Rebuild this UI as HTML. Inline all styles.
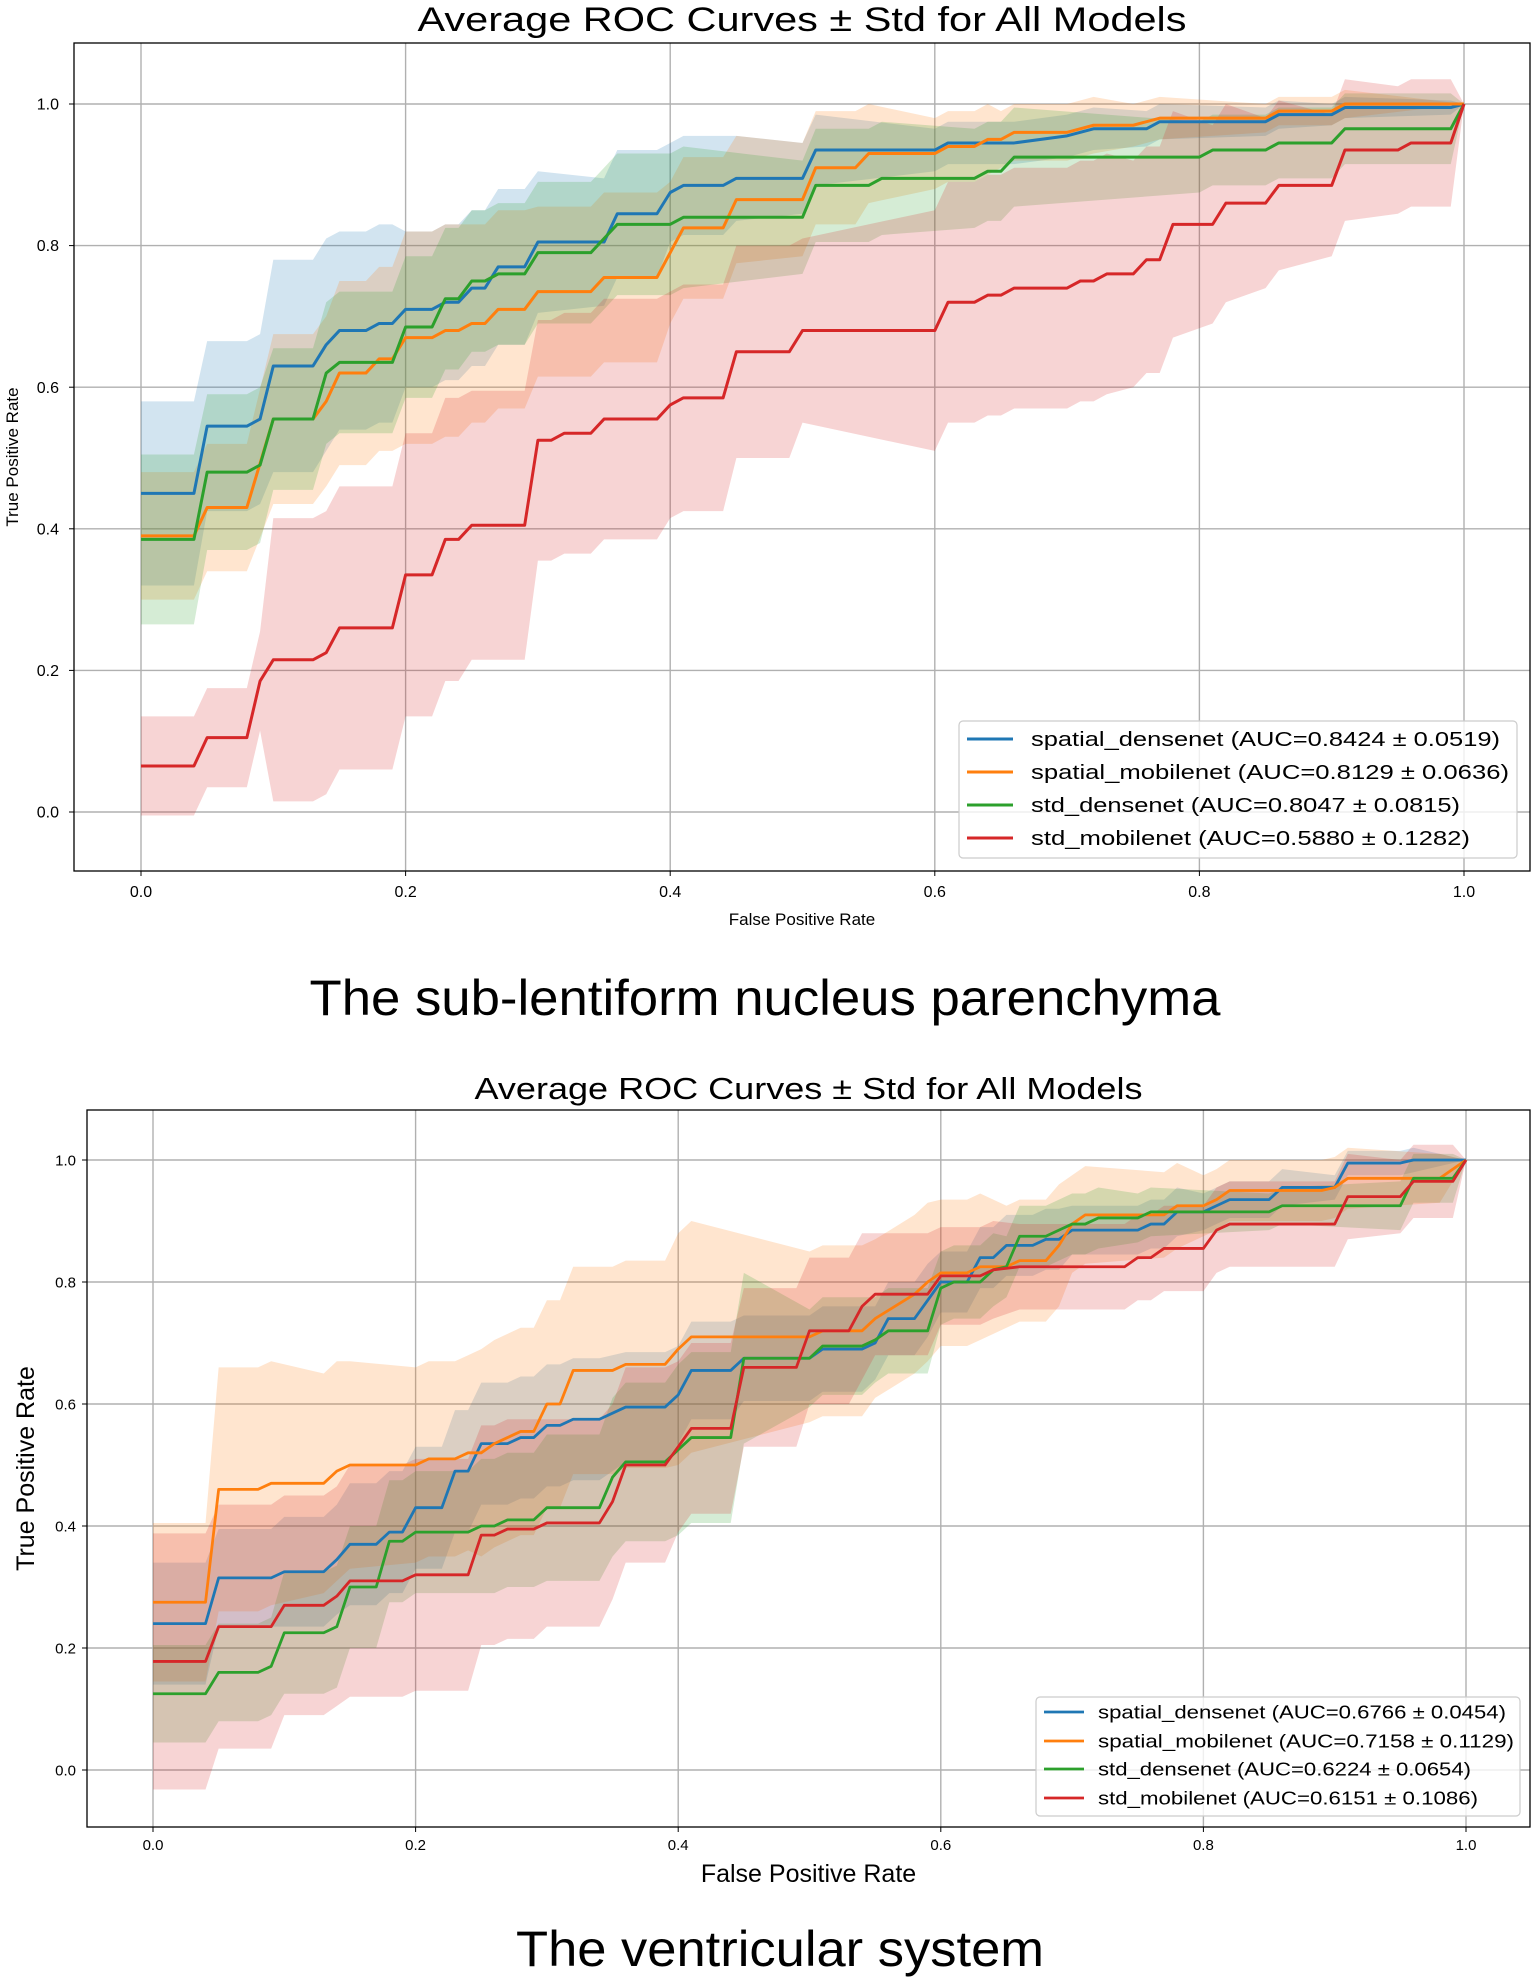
<!DOCTYPE html>
<html><head><meta charset="utf-8"><style>
html,body{margin:0;padding:0;background:#fff}
svg{display:block;font-family:"Liberation Sans",sans-serif}
</style></head><body>
<svg id="svg" width="1535" height="1984" viewBox="0 0 1535 1984" xmlns="http://www.w3.org/2000/svg">
<text x="765" y="1015" font-size="50" text-anchor="middle" textLength="911" lengthAdjust="spacingAndGlyphs">The sub-lentiform nucleus parenchyma</text>
<text x="780" y="1966" font-size="50" text-anchor="middle" textLength="528" lengthAdjust="spacingAndGlyphs">The ventricular system</text>
</svg>
<script>
// ---------- Data: chart 1 (sub-lentiform nucleus) ----------
const seriesNames = ["spatial_densenet","spatial_mobilenet","std_densenet","std_mobilenet"];
const c1Labels = ["spatial_densenet (AUC=0.8424 ± 0.0519)","spatial_mobilenet (AUC=0.8129 ± 0.0636)","std_densenet (AUC=0.8047 ± 0.0815)","std_mobilenet (AUC=0.5880 ± 0.1282)"];
const c2Labels = ["spatial_densenet (AUC=0.6766 ± 0.0454)","spatial_mobilenet (AUC=0.7158 ± 0.1129)","std_densenet (AUC=0.6224 ± 0.0654)","std_mobilenet (AUC=0.6151 ± 0.1086)"];
const tickValues = [0,0.2,0.4,0.6,0.8,1.0];
const tickLabels = ["0.0","0.2","0.4","0.6","0.8","1.0"];
const sdGrid = [0,.05,.1,.15,.2,.25,.3,.35,.4,.45,.5,.55,.6,.65,.7,.75,.8,.85,.9,.95,1];

const c1Blue = [[0,.45],[.04,.45],[.05,.545],[.08,.545],[.09,.555],[.1,.63],[.13,.63],[.14,.66],[.15,.68],[.17,.68],[.18,.69],[.19,.69],[.2,.71],[.22,.71],[.23,.72],[.24,.72],[.25,.74],[.26,.74],[.27,.77],[.29,.77],[.3,.805],[.35,.805],[.36,.845],[.39,.845],[.4,.875],[.41,.885],[.44,.885],[.45,.895],[.5,.895],[.51,.935],[.6,.935],[.61,.945],[.66,.945],[.7,.955],[.72,.965],[.76,.965],[.77,.975],[.85,.975],[.86,.985],[.9,.985],[.91,.995],[.99,.995],[1,1]];
const c1Orange = [[0,.39],[.04,.39],[.05,.43],[.08,.43],[.1,.555],[.13,.555],[.14,.58],[.15,.62],[.17,.62],[.18,.64],[.19,.64],[.2,.67],[.22,.67],[.23,.68],[.24,.68],[.25,.69],[.26,.69],[.27,.71],[.29,.71],[.3,.735],[.34,.735],[.35,.755],[.39,.755],[.4,.79],[.41,.825],[.44,.825],[.45,.865],[.5,.865],[.51,.91],[.54,.91],[.55,.93],[.6,.93],[.61,.94],[.63,.94],[.64,.95],[.65,.95],[.66,.96],[.7,.96],[.72,.97],[.75,.97],[.77,.98],[.85,.98],[.86,.99],[.9,.99],[.91,1],[1,1]];
const c1Green = [[0,.385],[.04,.385],[.05,.48],[.08,.48],[.09,.49],[.1,.555],[.13,.555],[.14,.62],[.15,.635],[.19,.635],[.2,.685],[.22,.685],[.23,.725],[.24,.725],[.25,.75],[.26,.75],[.27,.76],[.29,.76],[.3,.79],[.34,.79],[.35,.81],[.36,.83],[.4,.83],[.41,.84],[.5,.84],[.51,.885],[.55,.885],[.56,.895],[.63,.895],[.64,.905],[.65,.905],[.66,.925],[.8,.925],[.81,.935],[.85,.935],[.86,.945],[.9,.945],[.91,.965],[.99,.965],[1,1]];
const c1Red = [[0,.065],[.04,.065],[.05,.105],[.08,.105],[.09,.185],[.1,.215],[.13,.215],[.14,.225],[.15,.26],[.19,.26],[.2,.335],[.22,.335],[.23,.385],[.24,.385],[.25,.405],[.29,.405],[.3,.525],[.31,.525],[.32,.535],[.34,.535],[.35,.555],[.39,.555],[.4,.575],[.41,.585],[.44,.585],[.45,.65],[.49,.65],[.5,.68],[.6,.68],[.61,.72],[.63,.72],[.64,.73],[.65,.73],[.66,.74],[.7,.74],[.71,.75],[.72,.75],[.73,.76],[.75,.76],[.76,.78],[.77,.78],[.78,.83],[.81,.83],[.82,.86],[.85,.86],[.86,.885],[.9,.885],[.91,.935],[.95,.935],[.96,.945],[.99,.945],[1,1]];
const c1BlueSd = [.13,.12,.15,.14,.11,.11,.10,.09,.07,.06,.05,.04,.03,.03,.03,.025,.02,.02,.015,.01,0];
const c1OrangeSd = [.09,.09,.12,.13,.15,.14,.12,.12,.1,.09,.08,.07,.05,.04,.04,.03,.03,.02,.02,.02,0];
const c1GreenSd = [.12,.11,.1,.1,.1,.1,.1,.1,.1,.09,.08,.08,.07,.07,.06,.06,.05,.05,.05,.05,0];
const c1RedSd = [.07,.07,.2,.2,.2,.19,.17,.17,.16,.15,.13,.15,.17,.17,.17,.16,.14,.12,.1,.09,0];

// ---------- Data: chart 2 (ventricular system) ----------
const c2Blue = [[0,.24],[.04,.24],[.05,.315],[.09,.315],[.1,.325],[.13,.325],[.14,.345],[.15,.37],[.17,.37],[.18,.39],[.19,.39],[.2,.43],[.22,.43],[.23,.49],[.24,.49],[.25,.535],[.27,.535],[.28,.545],[.29,.545],[.3,.565],[.31,.565],[.32,.575],[.34,.575],[.36,.595],[.39,.595],[.4,.615],[.41,.655],[.44,.655],[.45,.675],[.5,.675],[.51,.69],[.54,.69],[.55,.7],[.56,.74],[.58,.74],[.59,.77],[.6,.8],[.62,.8],[.63,.84],[.64,.84],[.65,.86],[.67,.86],[.68,.87],[.69,.87],[.7,.885],[.75,.885],[.76,.895],[.77,.895],[.78,.915],[.8,.915],[.81,.925],[.82,.935],[.85,.935],[.86,.955],[.9,.955],[.91,.995],[.95,.995],[.96,1],[1,1]];
const c2Orange = [[0,.275],[.04,.275],[.05,.46],[.08,.46],[.09,.47],[.13,.47],[.14,.49],[.15,.5],[.2,.5],[.21,.51],[.23,.51],[.24,.52],[.25,.52],[.26,.535],[.27,.545],[.28,.555],[.29,.555],[.3,.6],[.31,.6],[.32,.655],[.35,.655],[.36,.665],[.39,.665],[.4,.69],[.41,.71],[.5,.71],[.51,.72],[.54,.72],[.55,.74],[.58,.78],[.59,.8],[.6,.815],[.62,.815],[.63,.825],[.65,.825],[.66,.835],[.68,.835],[.69,.86],[.7,.895],[.71,.91],[.77,.91],[.78,.925],[.8,.925],[.81,.935],[.82,.95],[.89,.95],[.9,.955],[.91,.97],[.98,.97],[1,1]];
const c2Green = [[0,.125],[.04,.125],[.05,.16],[.08,.16],[.09,.17],[.1,.225],[.13,.225],[.14,.235],[.15,.3],[.17,.3],[.18,.375],[.19,.375],[.2,.39],[.24,.39],[.25,.4],[.26,.4],[.27,.41],[.29,.41],[.3,.43],[.34,.43],[.35,.48],[.36,.505],[.39,.505],[.4,.525],[.41,.545],[.44,.545],[.45,.675],[.5,.675],[.51,.695],[.54,.695],[.55,.705],[.56,.72],[.59,.72],[.6,.79],[.61,.8],[.63,.8],[.64,.82],[.65,.825],[.66,.875],[.68,.875],[.69,.885],[.7,.895],[.71,.895],[.72,.905],[.75,.905],[.76,.915],[.85,.915],[.86,.925],[.95,.925],[.96,.97],[.99,.97],[1,1]];
const c2Red = [[0,.178],[.04,.178],[.05,.235],[.09,.235],[.1,.27],[.13,.27],[.14,.285],[.15,.31],[.19,.31],[.2,.32],[.24,.32],[.25,.385],[.26,.385],[.27,.395],[.29,.395],[.3,.405],[.34,.405],[.35,.44],[.36,.5],[.39,.5],[.4,.53],[.41,.56],[.44,.56],[.45,.66],[.49,.66],[.5,.72],[.53,.72],[.54,.76],[.55,.78],[.59,.78],[.6,.81],[.63,.81],[.64,.82],[.66,.825],[.74,.825],[.75,.84],[.76,.84],[.77,.855],[.8,.855],[.81,.885],[.82,.895],[.9,.895],[.91,.94],[.95,.94],[.96,.965],[.99,.965],[1,1]];
const c2BlueSd = [.1,.08,.09,.1,.1,.1,.1,.09,.08,.07,.07,.06,.05,.05,.04,.04,.03,.03,.02,.02,0];
const c2OrangeSd = [.13,.2,.18,.17,.16,.17,.17,.17,.19,.17,.14,.13,.12,.1,.08,.07,.05,.05,.05,.04,0];
const c2GreenSd = [.08,.08,.1,.1,.1,.11,.12,.13,.14,.14,.08,.07,.06,.05,.05,.04,.04,.03,.03,.04,0];
const c2RedSd = [.21,.2,.18,.19,.19,.18,.17,.16,.14,.13,.12,.1,.08,.07,.07,.07,.07,.07,.07,.06,0];

const colors = ["#1f77b4","#ff7f0e","#2ca02c","#d62728"];
const NS = "http://www.w3.org/2000/svg";
const svg = document.getElementById("svg");
function mk(tag, attrs, parent){const e=document.createElementNS(NS,tag);for(const k in attrs)e.setAttribute(k,attrs[k]);(parent||svg).appendChild(e);return e;}
function sdAt(sd,x){let i=Math.min(sd.length-1,Math.floor(x/0.05+1e-9));return sd[i];}

function drawChart(cfg){
  const g = mk("g",{});
  
  
  const X = v => cfg.x0 + v*(cfg.x1-cfg.x0);
  const Y = v => cfg.y0 + v*(cfg.y1-cfg.y0);
  const t = mk("text",{x:(cfg.fl+cfg.fr)/2,y:cfg.titleY,"font-size":cfg.titleSize,"text-anchor":"middle",textLength:cfg.titleLen,lengthAdjust:"spacingAndGlyphs"},g);
  t.textContent = "Average ROC Curves ± Std for All Models";
  
  
  tickValues.forEach((v,i)=>{
    const gx = mk("line",{x1:X(v),x2:X(v),y1:cfg.ft,y2:cfg.fb,stroke:"#b0b0b0","stroke-width":1.4},g);
    
    
    const gy = mk("line",{x1:cfg.fl,x2:cfg.fr,y1:Y(v),y2:Y(v),stroke:"#b0b0b0","stroke-width":1.4},g);
    
    
    mk("line",{x1:X(v),x2:X(v),y1:cfg.fb,y2:cfg.fb+5,stroke:"#000","stroke-width":1},g);
    mk("line",{x1:cfg.fl-5,x2:cfg.fl,y1:Y(v),y2:Y(v),stroke:"#000","stroke-width":1},g);
    const xt = mk("text",{x:X(v),y:cfg.xTickY,"font-size":cfg.tickSize,"text-anchor":"middle"},g);
    xt.textContent = tickLabels[i];
    
    
    const yt = mk("text",{x:cfg.yTickX,y:Y(v)+cfg.tickSize*0.35,"font-size":cfg.tickSize,"text-anchor":"end"},g);
    yt.textContent = tickLabels[i];
    
    
  });
  cfg.series.forEach((pts,si)=>{
    const sd = cfg.sds[si];
    const up = pts.map(p=>X(p[0])+","+Y(p[1]+sdAt(sd,p[0])));
    const lo = pts.slice().reverse().map(p=>X(p[0])+","+Y(p[1]-sdAt(sd,p[0])));
    const b = mk("polygon",{points:up.concat(lo).join(" "),fill:colors[si],"fill-opacity":0.2,stroke:"none"},g);
    
    
  });
  cfg.series.forEach((pts,si)=>{
    const l = mk("polyline",{points:pts.map(p=>X(p[0])+","+Y(p[1])).join(" "),fill:"none",stroke:colors[si],"stroke-width":cfg.lw,"stroke-linejoin":"round"},g);
    
    
  });
  const fr = mk("rect",{x:cfg.fl,y:cfg.ft,width:cfg.fr-cfg.fl,height:cfg.fb-cfg.ft,fill:"none",stroke:"#000","stroke-width":1.3},g);
  
  
  const xl = mk("text",{x:(cfg.fl+cfg.fr)/2,y:cfg.xLabelY,"font-size":cfg.labelSize,"text-anchor":"middle"},g);
  xl.textContent = "False Positive Rate";
  
  
  const cy = (cfg.ft+cfg.fb)/2;
  const yl = mk("text",{x:cfg.yLabelX,y:cy,"font-size":cfg.labelSize,"text-anchor":"middle",transform:`rotate(-90 ${cfg.yLabelX} ${cy})`},g);
  yl.textContent = "True Positive Rate";
  
  
  const L = cfg.legend;
  const lb = mk("rect",{x:L.x,y:L.y,width:L.w,height:L.h,rx:4,fill:"#fff","fill-opacity":0.8,stroke:"#cccccc","stroke-width":1.2},g);
  
  
  cfg.labels.forEach((lab,i)=>{
    const ry = L.rows[i];
    const ll = mk("line",{x1:L.lx1,x2:L.lx2,y1:ry,y2:ry,stroke:colors[i],"stroke-width":cfg.lw},g);
    
    
    const lt = mk("text",{x:L.tx,y:ry+L.fs*0.36,"font-size":L.fs,textLength:L.lens[i],lengthAdjust:"spacingAndGlyphs"},g);
    lt.textContent = lab;
    
    
  });
}

drawChart({name:"roc-chart-lentiform",fl:74,fr:1530,ft:43,fb:871,x0:141,x1:1464,y0:812,y1:104,
  titleY:31,titleSize:34,titleLen:769,tickSize:16,labelSize:17,xTickY:897,yTickX:59,xLabelY:925,yLabelX:18,lw:3,
  series:[c1Blue,c1Orange,c1Green,c1Red],sds:[c1BlueSd,c1OrangeSd,c1GreenSd,c1RedSd],labels:c1Labels,
  legend:{x:959,y:721,w:558,h:137,rows:[739,772,805,838],lx1:967,lx2:1013,tx:1031,fs:20,lens:[469,478,429,439]}});
drawChart({name:"roc-chart-ventricular",fl:87,fr:1530,ft:1110,fb:1827,x0:153,x1:1466,y0:1770,y1:1160,
  titleY:1099,titleSize:31,titleLen:668,tickSize:15,labelSize:25,xTickY:1850,yTickX:76,xLabelY:1882,yLabelX:34,lw:2.8,
  series:[c2Blue,c2Orange,c2Green,c2Red],sds:[c2BlueSd,c2OrangeSd,c2GreenSd,c2RedSd],labels:c2Labels,
  legend:{x:1036,y:1697,w:484,h:119,rows:[1712,1741,1769,1798],lx1:1044,lx2:1084,tx:1098,fs:18,lens:[408,416,373,380]}});
</script>
</body></html>
